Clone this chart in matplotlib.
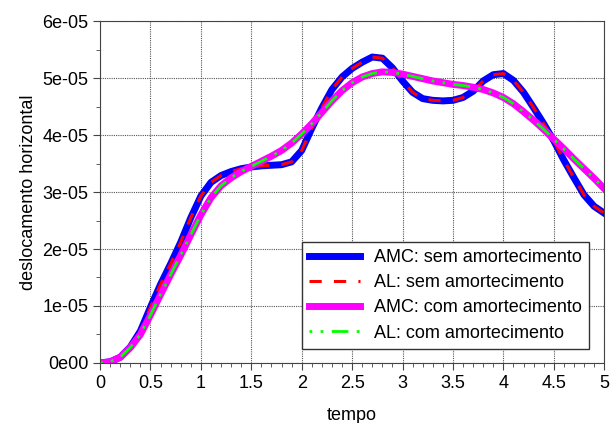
import numpy as np
import matplotlib
matplotlib.use("Agg")
import matplotlib.pyplot as plt

# tempo, every 0.1 s
tempo = np.round(np.arange(0, 5.01, 0.1), 1)

# deslocamento (x 1e-05)
amc_sem = [0, 0.02, 0.10, 0.28, 0.56, 0.98, 1.38, 1.74, 2.12, 2.55,
           2.93, 3.17, 3.29, 3.36, 3.41, 3.44, 3.46, 3.47, 3.48, 3.53,
           3.73, 4.12, 4.48, 4.80, 5.02, 5.17, 5.28, 5.37, 5.35, 5.18,
           4.95, 4.75, 4.64, 4.61, 4.60, 4.61, 4.66, 4.77, 4.95, 5.06,
           5.08, 4.96, 4.75, 4.48, 4.20, 3.90, 3.56, 3.25, 2.95, 2.75,
           2.63]
al_sem = list(amc_sem)

amc_com = [0, 0.02, 0.10, 0.27, 0.50, 0.84, 1.20, 1.55, 1.89, 2.25,
           2.60, 2.90, 3.11, 3.25, 3.36, 3.45, 3.54, 3.63, 3.73, 3.86,
           4.02, 4.20, 4.40, 4.60, 4.78, 4.92, 5.02, 5.08, 5.11, 5.10,
           5.07, 5.03, 4.99, 4.95, 4.92, 4.89, 4.87, 4.84, 4.80, 4.74,
           4.66, 4.55, 4.41, 4.26, 4.10, 3.93, 3.76, 3.58, 3.41, 3.24,
           3.06]
al_com = list(amc_com)

labels = ["AMC: sem amortecimento", "AL: sem amortecimento",
          "AMC: com amortecimento", "AL: com amortecimento"]
x_ticks = [0, 0.5, 1, 1.5, 2, 2.5, 3, 3.5, 4, 4.5, 5]
x_tick_labels = ["0", "0.5", "1", "1.5", "2", "2.5", "3", "3.5", "4", "4.5", "5"]
y_ticks = [0, 1e-5, 2e-5, 3e-5, 4e-5, 5e-5, 6e-5]
y_tick_labels = ["0e00", "1e-05", "2e-05", "3e-05", "4e-05", "5e-05", "6e-05"]

plt.rcParams['font.family'] = ['Liberation Sans', 'DejaVu Sans']
plt.rcParams['font.size'] = 13

fig = plt.figure(figsize=(6.14, 4.23), dpi=100)
ax = fig.add_axes([0.163, 0.142, 0.821, 0.808])

scale = 1e-5
ax.plot(tempo, np.array(amc_sem) * scale, color="blue", lw=5,
        solid_joinstyle="round", label=labels[0])
ax.plot(tempo, np.array(al_sem) * scale, color="red", lw=2.2,
        linestyle=(0, (4, 4)), label=labels[1])
ax.plot(tempo, np.array(amc_com) * scale, color="magenta", lw=5,
        solid_joinstyle="round", label=labels[2])
ax.plot(tempo, np.array(al_com) * scale, color="#00ff00", lw=2,
        linestyle=(0, (1, 3, 1, 3, 6, 3)), label=labels[3])

ax.set_xlim(0, 5)
ax.set_ylim(0, 6e-5)
ax.set_xticks(x_ticks)
ax.set_xticklabels(x_tick_labels)
ax.set_yticks(y_ticks)
ax.set_yticklabels(y_tick_labels)
ax.set_xticks(np.arange(0, 5.01, 0.1), minor=True)
ax.set_yticks(np.arange(0, 6.01e-5, 0.5e-5), minor=True)
ax.tick_params(which="major", length=5, color="#444444")
ax.tick_params(which="minor", length=3, color="#444444")
ax.grid(True, which="major", linestyle=(0, (1, 1)), color="#555555", lw=0.8)
for s in ax.spines.values():
    s.set_color("#444444")

ax.set_xlabel("tempo", labelpad=11)
ax.set_ylabel("deslocamento horizontal", labelpad=4)

leg = ax.legend(loc="lower right", bbox_to_anchor=(0.988, 0.015),
                fancybox=False, framealpha=1, edgecolor="#333333",
                handlelength=2.8, borderpad=0.4, labelspacing=0.45)
leg.get_frame().set_linewidth(1)

fig.savefig("out.png", dpi=100)
